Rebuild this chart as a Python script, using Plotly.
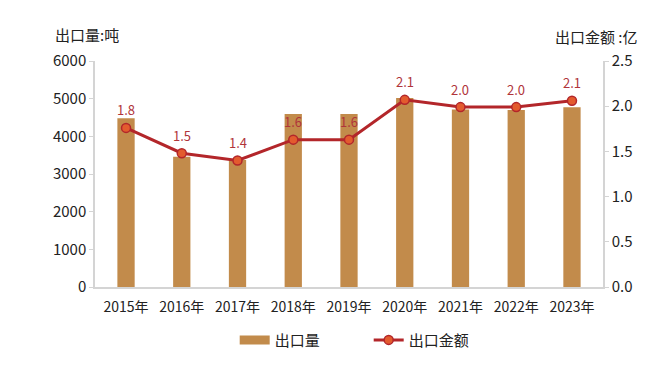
import plotly.graph_objects as go

years = ["2015年", "2016年", "2017年", "2018年", "2019年", "2020年", "2021年", "2022年", "2023年"]
volume = [4480, 3460, 3370, 4590, 4590, 5020, 4710, 4700, 4770]
amount = [1.76, 1.48, 1.40, 1.63, 1.63, 2.07, 1.99, 1.99, 2.06]
left_ticks = [0, 1000, 2000, 3000, 4000, 5000, 6000]
right_ticks = [0.0, 0.5, 1.0, 1.5, 2.0, 2.5]

FONT = "Noto Sans CJK SC"
BAR = "#C28B4B"

fig = go.Figure()
fig.add_trace(go.Bar(
    x=years, y=volume, name="出口量", showlegend=False,
    marker=dict(color=BAR, line=dict(width=0)),
    width=0.31,
))
# legend-only entry drawn as a wide swatch like the reference
fig.add_trace(go.Scatter(
    x=[None], y=[None], name="出口量", mode="lines",
    line=dict(color=BAR, width=9),
))
fig.add_trace(go.Scatter(
    x=years, y=amount, name="出口金额", yaxis="y2",
    mode="lines+markers",
    line=dict(color="#B3262A", width=3),
    marker=dict(size=9, color="#E35B2E", line=dict(color="#B3262A", width=1.5)),
))

axis_common = dict(
    showgrid=False, zeroline=False, showline=True,
    linecolor="#D4D4D4", linewidth=1.5,
    ticks="outside", ticklen=4, tickcolor="#D4D4D4",
    tickfont=dict(size=15, color="#222222", family=FONT),
)

annotations = [
    dict(text=f"{v:.1f}", x=c, y=v, xref="x", yref="y2", yshift=18,
         showarrow=False, font=dict(size=13, color="#B0343A", family=FONT))
    for c, v in zip(years, amount)
]
annotations += [
    dict(text="出口量:吨", xref="paper", yref="paper", x=-0.083, y=1.06,
         xanchor="left", yanchor="bottom", showarrow=False,
         font=dict(size=15, color="#222222", family=FONT)),
    dict(text="出口金额 :亿", xref="paper", yref="paper", x=1.073, y=1.051,
         xanchor="right", yanchor="bottom", showarrow=False,
         font=dict(size=15, color="#222222", family=FONT)),
]

# page body has an 8px default margin, so the figure is drawn 8px in/down
fig.update_layout(
    width=656, height=356,
    margin=dict(l=87, r=61, t=53, b=77, autoexpand=False),
    paper_bgcolor="white", plot_bgcolor="white",
    font=dict(family=FONT, color="#222222"),
    xaxis=dict(showgrid=False, zeroline=False, showline=True,
               linecolor="#D4D4D4", linewidth=1.5, ticks="",
               ticklabelstandoff=6,
               tickfont=dict(size=14, color="#222222", family=FONT)),
    yaxis=dict(range=[0, 6000], tickvals=left_ticks, **axis_common),
    yaxis2=dict(range=[0, 2.5], tickvals=right_ticks, tickformat=".1f",
                overlaying="y", side="right", **axis_common),
    showlegend=True,
    legend=dict(orientation="h", x=0.275, xanchor="left",
                yref="container", y=0.067, yanchor="middle",
                entrywidth=89, entrywidthmode="pixels",
                font=dict(size=15, color="#222222", family=FONT)),
    annotations=annotations,
)

fig.write_html("out.html")
